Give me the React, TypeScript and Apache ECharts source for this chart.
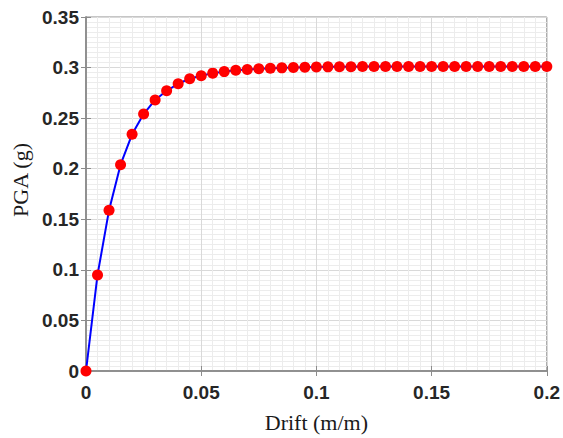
import React, { useEffect, useRef } from "react";
import * as echarts from "echarts";

const driftValues: number[] = [
  0, 0.005, 0.01, 0.015, 0.02, 0.025, 0.03, 0.035, 0.04, 0.045,
  0.05, 0.055, 0.06, 0.065, 0.07, 0.075, 0.08, 0.085, 0.09, 0.095,
  0.1, 0.105, 0.11, 0.115, 0.12, 0.125, 0.13, 0.135, 0.14, 0.145,
  0.15, 0.155, 0.16, 0.165, 0.17, 0.175, 0.18, 0.185, 0.19, 0.195, 0.2,
];
const pgaValues: number[] = [
  0, 0.095, 0.159, 0.204, 0.234, 0.254, 0.268, 0.277, 0.284, 0.289,
  0.292, 0.2945, 0.296, 0.2973, 0.298, 0.2988, 0.2993, 0.2997, 0.3, 0.3003,
  0.3005, 0.3007, 0.3008, 0.3009, 0.301, 0.301, 0.301, 0.301, 0.301, 0.301,
  0.301, 0.301, 0.301, 0.301, 0.301, 0.301, 0.301, 0.301, 0.301, 0.301, 0.301,
];
const xTickLabels: string[] = ["0", "0.05", "0.1", "0.15", "0.2"];
const yTickLabels: string[] = ["0", "0.05", "0.1", "0.15", "0.2", "0.25", "0.3", "0.35"];

export default function App() {
  const ref = useRef<HTMLDivElement>(null);
  useEffect(() => {
    if (!ref.current) return;
    const chart = echarts.init(ref.current, null, { renderer: "svg" });
    const labelFont = {
      fontFamily: "Liberation Sans, Arial, sans-serif",
      fontWeight: "bold" as const,
      fontSize: 19,
      color: "#262626",
    };
    const nameFont = {
      fontFamily: "Liberation Serif, Times New Roman, serif",
      fontSize: 22,
      color: "#1a1a1a",
    };
    const fmt = (v: number, labels: string[], step: number) => {
      const i = Math.round(v / step);
      return labels[i] ?? "";
    };
    chart.setOption({
      animation: false,
      backgroundColor: "#ffffff",
      grid: {
        left: 86,
        right: 15,
        top: 17,
        bottom: 65,
        show: true,
        borderColor: "#8c8c8c",
        borderWidth: 1,
        backgroundColor: "#ffffff",
      },
      xAxis: [
        {
          type: "value",
          min: 0,
          max: 0.2,
          interval: 0.05,
          name: "Drift (m/m)",
          nameLocation: "middle",
          nameGap: 40,
          nameTextStyle: nameFont,
          axisLine: { show: true, onZero: false, lineStyle: { color: "#8c8c8c", width: 1.5 } },
          axisTick: { show: true, inside: true, length: 5, lineStyle: { color: "#8c8c8c" } },
          axisLabel: {
            ...labelFont,
            margin: 12,
            formatter: (v: number) => fmt(v, xTickLabels, 0.05),
          },
          splitLine: { show: true, lineStyle: { color: "#d9d9d9", width: 1 } },
          minorTick: { show: false, splitNumber: 10 },
          minorSplitLine: { show: true, lineStyle: { color: "#ececec", width: 1 } },
        },
        {
          type: "value",
          position: "top",
          min: 0,
          max: 0.2,
          interval: 0.05,
          axisLine: { show: true, lineStyle: { color: "#8c8c8c", width: 1.5 } },
          axisTick: { show: true, inside: true, length: 5, lineStyle: { color: "#8c8c8c" } },
          axisLabel: { show: false },
          splitLine: { show: false },
        },
      ],
      yAxis: [
        {
          type: "value",
          min: 0,
          max: 0.35,
          interval: 0.05,
          name: "PGA (g)",
          nameLocation: "middle",
          nameGap: 53,
          nameTextStyle: { ...nameFont, padding: [0, 0, 0, 28] },
          axisLine: { show: true, onZero: false, lineStyle: { color: "#8c8c8c", width: 1.5 } },
          axisTick: { show: true, inside: true, length: 5, lineStyle: { color: "#8c8c8c" } },
          axisLabel: {
            ...labelFont,
            margin: 7,
            formatter: (v: number) => fmt(v, yTickLabels, 0.05),
          },
          splitLine: { show: true, lineStyle: { color: "#d9d9d9", width: 1 } },
          minorTick: { show: false, splitNumber: 10 },
          minorSplitLine: { show: true, lineStyle: { color: "#ececec", width: 1 } },
        },
        {
          type: "value",
          position: "right",
          min: 0,
          max: 0.35,
          interval: 0.05,
          axisLine: { show: true, lineStyle: { color: "#8c8c8c", width: 1.5 } },
          axisTick: { show: true, inside: true, length: 5, lineStyle: { color: "#8c8c8c" } },
          axisLabel: { show: false },
          splitLine: { show: false },
        },
      ],
      series: [
        {
          type: "line",
          xAxisIndex: 0,
          yAxisIndex: 0,
          data: driftValues.map((x, i) => [x, pgaValues[i]]),
          smooth: false,
          clip: false,
          lineStyle: { color: "#0000ff", width: 2 },
          symbol: "circle",
          symbolSize: 11,
          itemStyle: { color: "#ff0000", borderWidth: 0 },
          z: 5,
        },
      ],
    });
    return () => chart.dispose();
  }, []);
  return <div ref={ref} style={{ width: 563, height: 438, position: "absolute", left: 0, top: 0 }} />;
}
